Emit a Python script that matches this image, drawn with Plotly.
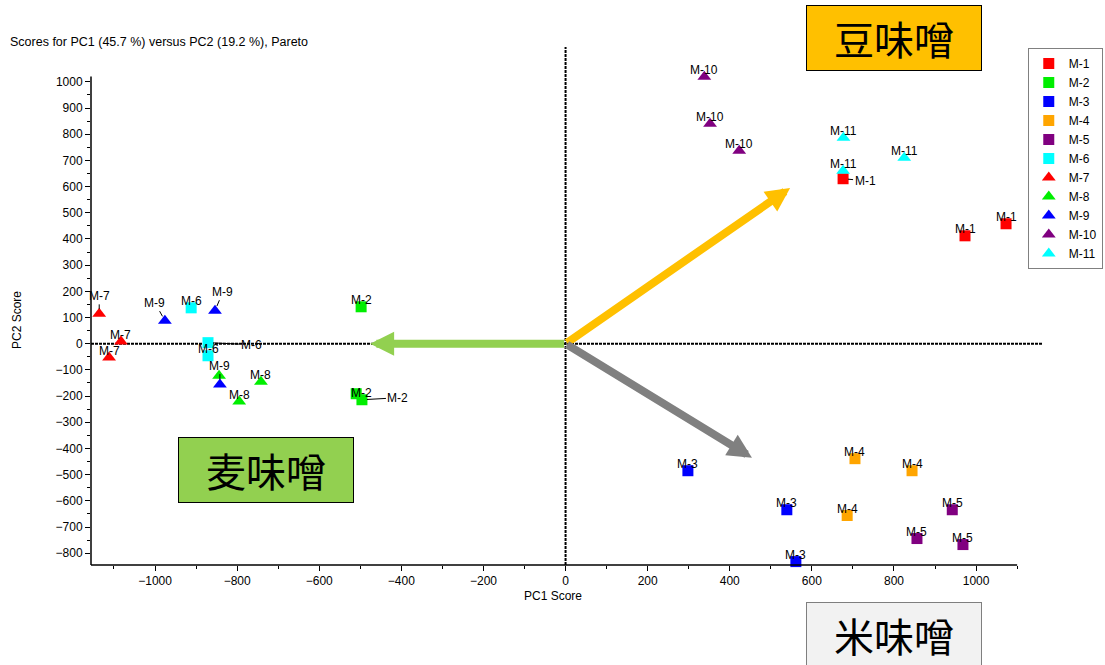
import plotly.graph_objects as go

# ---------------- data (PC1 / PC2 scores) ----------------
groups = ["M-1", "M-2", "M-3", "M-4", "M-5", "M-6", "M-7", "M-8", "M-9", "M-10", "M-11"]

M1_PC1 = [676, 973, 1073]
M1_PC2 = [630, 412, 458]
M2_PC1 = [-498, -510, -496]
M2_PC2 = [141, -191, -214]
M3_PC1 = [298, 539, 561]
M3_PC2 = [-485, -634, -832]
M4_PC1 = [705, 844, 686]
M4_PC2 = [-439, -485, -656]
M5_PC1 = [942, 856, 968]
M5_PC2 = [-634, -744, -767]
M6_PC1 = [-912, -871, -871]
M6_PC2 = [137, 4, -46]
M7_PC1 = [-1136, -1083, -1112]
M7_PC2 = [114, 8, -53]
M8_PC1 = [-844, -742, -795]
M8_PC2 = [-122, -145, -221]
M9_PC1 = [-976, -854, -842]
M9_PC2 = [88, 126, -156]
M10_PC1 = [338, 352, 423]
M10_PC2 = [1019, 840, 737]
M11_PC1 = [677, 825, 676]
M11_PC2 = [786, 710, 660]

pc1_lists = [M1_PC1, M2_PC1, M3_PC1, M4_PC1, M5_PC1, M6_PC1, M7_PC1, M8_PC1, M9_PC1, M10_PC1, M11_PC1]
pc2_lists = [M1_PC2, M2_PC2, M3_PC2, M4_PC2, M5_PC2, M6_PC2, M7_PC2, M8_PC2, M9_PC2, M10_PC2, M11_PC2]

x_ticks = [-1000, -800, -600, -400, -200, 0, 200, 400, 600, 800, 1000]
y_ticks = [-800, -700, -600, -500, -400, -300, -200, -100, 0, 100, 200, 300, 400, 500, 600, 700, 800, 900, 1000]

box_labels = ["豆味噌", "麦味噌", "米味噌"]

# ---------------- styles ----------------
colors = ["#FF0000", "#00EE00", "#0000FF", "#FFA500", "#800080", "#00FFFF",
          "#FF0000", "#00EE00", "#0000FF", "#800080", "#00FFFF"]
symbols = ["square"] * 6 + ["triangle-up"] * 5
FONT = "Liberation Sans, Arial, sans-serif"
JP = "Noto Sans CJK JP"

# label placement: (group index, point index) -> (ax, ay, leader)
label_special = {
    (0, 0): (22, 2, True),
    (1, 1): (5, -1, False),
    (1, 2): (36, -2, True),
    (5, 1): (43, 2, True),
    (6, 0): (0, -18, True),
    (8, 0): (-10, -18, True),
    (8, 1): (8, -19, True),
    (8, 2): (0, -19, True),
}
label_hidden = {(7, 0)}

fig = go.Figure()
for gi, name in enumerate(groups):
    fig.add_trace(go.Scatter(
        x=pc1_lists[gi], y=pc2_lists[gi], mode="markers", name=name,
        marker=dict(symbol=symbols[gi], color=colors[gi],
                    size=11 if symbols[gi] == "square" else 12,
                    line=dict(width=0)),
        cliponaxis=False,
    ))

annotations = []
for gi, name in enumerate(groups):
    for pi, (xv, yv) in enumerate(zip(pc1_lists[gi], pc2_lists[gi])):
        if (gi, pi) in label_hidden:
            continue
        if (gi, pi) in label_special:
            ax, ay, leader = label_special[(gi, pi)]
            if leader:
                annotations.append(dict(x=xv, y=yv, xref="x", yref="y", text=name,
                                        showarrow=True, arrowhead=0, arrowwidth=1,
                                        arrowcolor="black", ax=ax, ay=ay, standoff=5,
                                        font=dict(family=FONT, size=12, color="black")))
            else:
                annotations.append(dict(x=xv, y=yv, xref="x", yref="y", text=name,
                                        showarrow=False, xshift=ax, yshift=-ay,
                                        font=dict(family=FONT, size=12, color="black")))
        else:
            annotations.append(dict(x=xv, y=yv, xref="x", yref="y", text=name,
                                    showarrow=False, yshift=7,
                                    font=dict(family=FONT, size=12, color="black")))

# arrows (decorations)
arrow_tips = [(547, 595, "#FFC000"), (-476, 0, "#92D050"), (454, -435, "#808080")]
for tx, ty, col in arrow_tips:
    annotations.append(dict(x=tx, y=ty, xref="x", yref="y", ax=0, ay=0,
                            axref="x", ayref="y", text="", showarrow=True,
                            arrowhead=2, arrowsize=0.6, arrowwidth=8,
                            arrowcolor=col, standoff=0))

# title & axis titles
annotations.append(dict(x=-0.0872, y=1.0097, xref="paper", yref="paper",
                        xanchor="left", yanchor="middle", showarrow=False,
                        text="Scores for PC1 (45.7 %) versus PC2 (19.2 %), Pareto",
                        font=dict(family=FONT, size=12.5, color="black")))
annotations.append(dict(x=0.4853, y=-0.0598, xref="paper", yref="paper",
                        xanchor="center", yanchor="middle",
                        showarrow=False, text="PC1 Score",
                        font=dict(family=FONT, size=12, color="black")))
annotations.append(dict(x=-0.0777, y=0.473, xref="paper", yref="paper",
                        xanchor="center", yanchor="middle",
                        showarrow=False, text="PC2 Score", textangle=-90,
                        font=dict(family=FONT, size=12, color="black")))

# Japanese boxes
box_specs = [
    (0.8435, 1.0174, "#FFC000", "#000000"),
    (0.1838, 0.1834, "#92D050", "#000000"),
    (0.8435, -0.1351, "#F2F2F2", "#7F7F7F"),
]
for txt, (bx, by, bg, bc) in zip(box_labels, box_specs):
    annotations.append(dict(x=bx, y=by, xref="paper", yref="paper", showarrow=False,
                            xanchor="center", yanchor="middle",
                            text=txt, width=174, height=64, bgcolor=bg,
                            bordercolor=bc, borderwidth=1, borderpad=0,
                            font=dict(family=JP, size=40, color="black")))

shapes = [
    # zero lines
    dict(type="line", xref="x", yref="paper", x0=0, x1=0, y0=0, y1=1,
         line=dict(color="black", width=2, dash="3px,1px"), layer="below"),
    dict(type="line", xref="paper", yref="y", x0=0, x1=1, y0=0, y1=0,
         line=dict(color="black", width=2, dash="3px,1px"), layer="below"),
    # axis lines
    dict(type="line", xref="paper", yref="y", x0=0, x1=0, y0=-845, y1=1020,
         line=dict(color="black", width=1.5)),
    dict(type="line", xref="x", yref="paper", x0=-1156, x1=1100, y0=0, y1=0,
         line=dict(color="black", width=1.5)),
]

minor_x = [v for v in range(-1100, 1101, 100) if v not in x_ticks]
minor_y = [v for v in range(-850, 1001, 50) if v not in y_ticks]

fig.update_xaxes(range=[-1156, 1163], tickmode="array", tickvals=x_ticks,
                 ticks="outside", ticklen=5, tickwidth=1, tickcolor="black",
                 showgrid=False, zeroline=False, showline=False,
                 tickfont=dict(family=FONT, size=12, color="black"),
                 minor=dict(tickmode="array", tickvals=minor_x, ticks="outside",
                            ticklen=3, tickcolor="black", showgrid=False))
fig.update_yaxes(range=[-845, 1133], tickmode="array", tickvals=y_ticks,
                 ticks="outside", ticklen=5, tickwidth=1, tickcolor="black",
                 showgrid=False, zeroline=False, showline=False,
                 tickfont=dict(family=FONT, size=12, color="black"),
                 minor=dict(tickmode="array", tickvals=minor_y, ticks="outside",
                            ticklen=3, tickcolor="black", showgrid=False))

fig.update_layout(
    width=1105, height=665,
    margin=dict(l=91, r=62, t=47, b=100, autoexpand=False),
    paper_bgcolor="white", plot_bgcolor="white",
    annotations=annotations, shapes=shapes,
    legend=dict(x=0.984, y=0.998, xanchor="left", yanchor="top",
                bgcolor="white", bordercolor="#808080", borderwidth=1,
                font=dict(family=FONT, size=12, color="black"),
                itemwidth=30, tracegroupgap=0),
    showlegend=True,
)

fig.write_html("out.html")
